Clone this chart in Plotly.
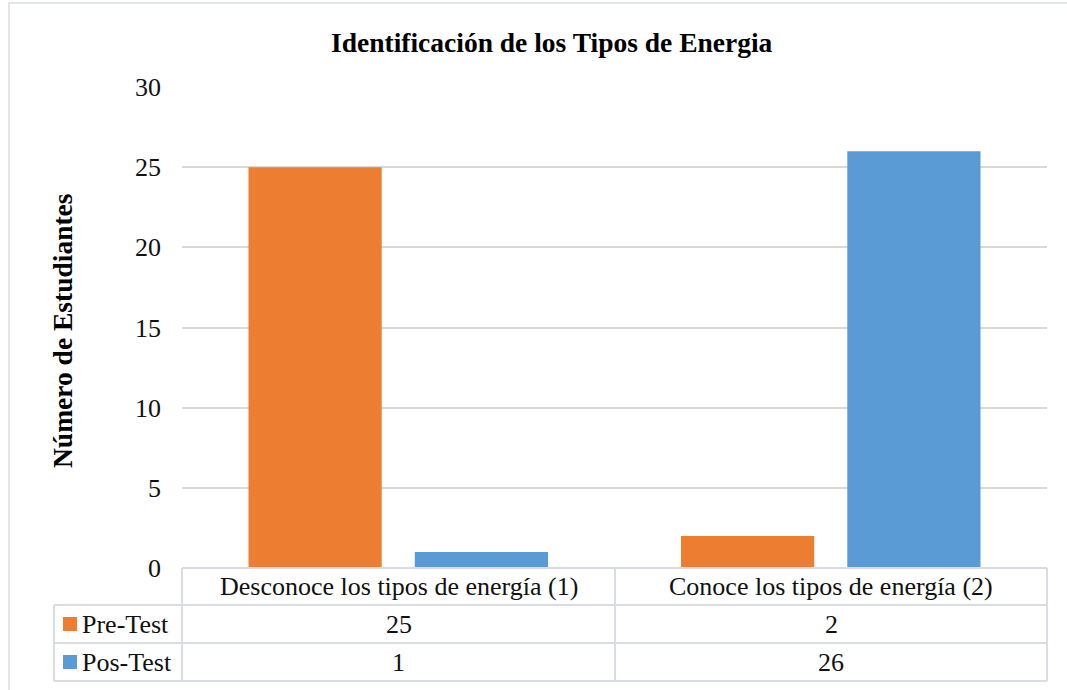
import plotly.graph_objects as go

# Data
categories = ["Desconoce los tipos de energía (1)", "Conoce los tipos de energía (2)"]
series_names = ["Pre-Test", "Pos-Test"]
pre_test = [25, 2]
pos_test = [1, 26]
series_values = [pre_test, pos_test]
series_colors = ["#ED7D31", "#5B9BD5"]
y_ticks = [0, 5, 10, 15, 20, 25, 30]

W, H = 1067, 690
L, R, T, B = 182, 1047, 87, 568  # plot area in pixels
FONT = "Liberation Serif, Times New Roman, serif"
GRID = "#d9d9d9"
LINE = "#d9dde3"


def px(x):
    return (x - L) / (R - L)


def py(y):
    return (B - y) / (B - T)


fig = go.Figure()
for name, vals, col in zip(series_names, series_values, series_colors):
    fig.add_trace(go.Bar(x=categories, y=vals, name=name, marker=dict(color=col, line=dict(width=0))))

shapes = []
annotations = []

# outer chart frame
shapes.append(dict(type="rect", xref="paper", yref="paper", x0=px(9), x1=px(1075), y0=py(3), y1=py(700),
                   line=dict(color=LINE, width=1.5), fillcolor="rgba(0,0,0,0)", layer="below"))

# data table grid
row_y = [568, 605, 643, 681]
col_x = [54, 182, 615, 1047]
# horizontal lines
shapes.append(dict(type="line", xref="paper", yref="paper", x0=px(182), x1=px(1047), y0=py(568), y1=py(568),
                   line=dict(color=LINE, width=2)))
for yy in row_y[1:]:
    shapes.append(dict(type="line", xref="paper", yref="paper", x0=px(col_x[0]), x1=px(1047), y0=py(yy), y1=py(yy),
                       line=dict(color=LINE, width=2)))
# vertical lines
shapes.append(dict(type="line", xref="paper", yref="paper", x0=px(col_x[0]), x1=px(col_x[0]), y0=py(605), y1=py(681),
                   line=dict(color=LINE, width=2)))
for xx in col_x[1:]:
    shapes.append(dict(type="line", xref="paper", yref="paper", x0=px(xx), x1=px(xx), y0=py(568), y1=py(681),
                       line=dict(color=LINE, width=2)))

# header row: category names
for i, cat in enumerate(categories):
    xc = (col_x[i + 1] + col_x[i + 2]) / 2
    annotations.append(dict(x=px(xc), y=py((row_y[0] + row_y[1]) / 2), xref="paper", yref="paper",
                            text=cat, showarrow=False, font=dict(family=FONT, size=26, color="#111"),
                            xanchor="center", yanchor="middle"))

# value rows with legend keys
for r, (name, vals, col) in enumerate(zip(series_names, series_values, series_colors)):
    yc = (row_y[r + 1] + row_y[r + 2]) / 2
    shapes.append(dict(type="rect", xref="paper", yref="paper", x0=px(63), x1=px(77), y0=py(yc - 7), y1=py(yc + 7),
                       fillcolor=col, line=dict(width=0)))
    annotations.append(dict(x=px(80), y=py(yc), xref="paper", yref="paper", text=name, showarrow=False,
                            font=dict(family=FONT, size=26, color="#111"), xanchor="left", yanchor="middle"))
    for i, v in enumerate(vals):
        xc = (col_x[i + 1] + col_x[i + 2]) / 2
        annotations.append(dict(x=px(xc), y=py(yc), xref="paper", yref="paper", text=str(v), showarrow=False,
                                font=dict(family=FONT, size=26, color="#111"), xanchor="center", yanchor="middle"))

# title and y-axis title
annotations.append(dict(x=px(552), y=py(42), xref="paper", yref="paper",
                        text="<b>Identificación de los Tipos de Energia</b>", showarrow=False,
                        font=dict(family=FONT, size=27.5, color="#000"), xanchor="center", yanchor="middle"))
annotations.append(dict(x=px(62), y=py(331), xref="paper", yref="paper",
                        text="<b>Número de Estudiantes</b>", showarrow=False, textangle=-90,
                        font=dict(family=FONT, size=27.5, color="#000"), xanchor="center", yanchor="middle"))

fig.update_layout(
    width=W, height=H,
    margin=dict(l=L, r=W - R, t=T, b=H - B),
    paper_bgcolor="white", plot_bgcolor="white",
    barmode="group", bargap=0.231, bargroupgap=0.199,
    showlegend=False,
    shapes=shapes, annotations=annotations,
    xaxis=dict(showticklabels=False, showgrid=False, zeroline=False, showline=False, ticks=""),
    yaxis=dict(range=[0, 30], tickvals=y_ticks, showgrid=True, gridcolor=GRID, gridwidth=1.5,
               zeroline=False, showline=False, ticks="", ticklabelstandoff=20,
               tickfont=dict(family=FONT, size=26, color="#111")),
)

fig.write_html("out.html")
